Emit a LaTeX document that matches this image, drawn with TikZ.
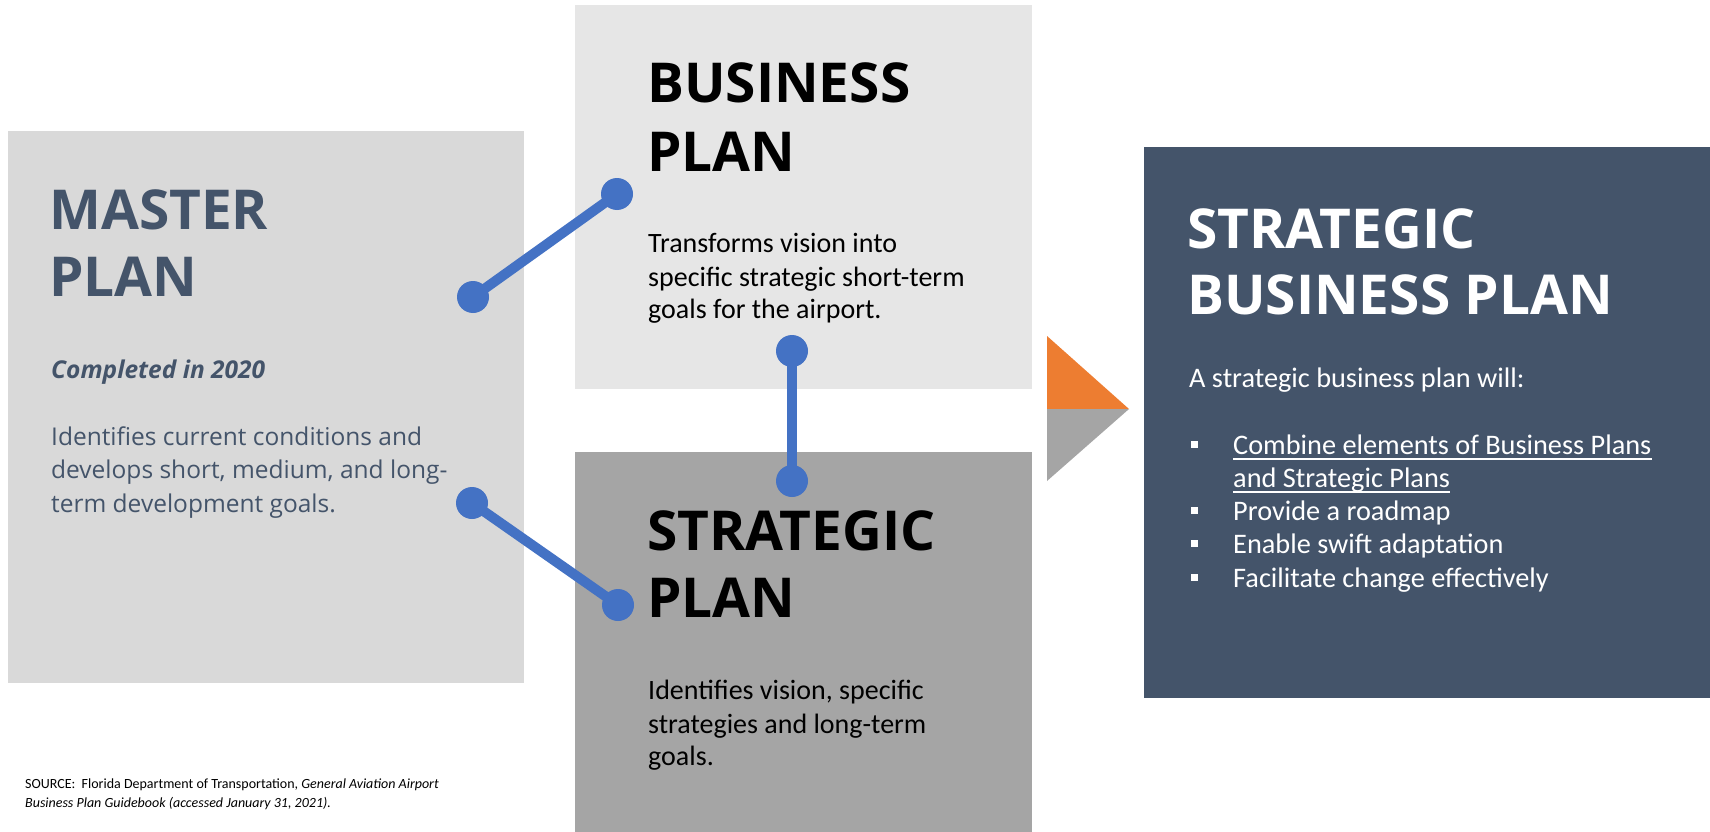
\documentclass[tikz,border=0pt]{standalone}
\usepackage{fontspec}
\setmainfont{Open Sans}
\newfontfamily\headfont{Open Sans}
\newfontfamily\calfont{Carlito}
\usetikzlibrary{calc}
\definecolor{navy}{HTML}{44546A}
\definecolor{mastergray}{HTML}{D9D9D9}
\definecolor{busgray}{HTML}{E6E6E6}
\definecolor{strgray}{HTML}{A5A5A5}
\definecolor{accorange}{HTML}{ED7D31}
\definecolor{linkblue}{HTML}{4472C4}
\tikzset{
  panel/.style={inner sep=0pt, outer sep=0pt, anchor=north west},
  heading/.style={anchor=base west, inner sep=0pt, font=\headfont\bfseries\fontsize{55}{55}\selectfont},
  mbody/.style={anchor=base west, inner sep=0pt, text=navy, font=\headfont\fontsize{24.5}{28}\selectfont},
  cbody/.style={anchor=base west, inner sep=0pt, font=\calfont\fontsize{28}{30}\selectfont},
  sbody/.style={anchor=base west, inner sep=0pt, text=white, font=\calfont\fontsize{28.3}{30}\selectfont},
  srcbody/.style={anchor=base west, inner sep=0pt, font=\calfont\fontsize{14}{15}\selectfont},
  dot/.style={circle, fill=linkblue, minimum size=32pt, inner sep=0pt},
  link/.style={draw=linkblue, line width=10pt},
  bulletsq/.style={fill=white, minimum width=7pt, minimum height=7pt, inner sep=0pt},
  uline/.style={draw=white, line width=1.4pt}
}
\begin{document}
\begin{tikzpicture}[x=1pt,y=-1pt]
\useasboundingbox (0,0) rectangle (1710,832);
\fill[white] (0,0) rectangle (1710,832);
% panels
\node[panel, fill=mastergray, minimum width=516pt, minimum height=552pt] (master) at (8,131) {};
\node[panel, fill=busgray, minimum width=457pt, minimum height=384pt] (business) at (575,5) {};
\node[panel, fill=strgray, minimum width=457pt, minimum height=380pt] (strategic) at (575,452) {};
\node[panel, fill=navy, minimum width=566pt, minimum height=551pt] (sbp) at (1144,147) {};
% triangles
\fill[accorange] (1047,336) coordinate (t1) -- (1129,409) coordinate (tip) -- (1047,409) coordinate (tm) -- cycle;
\fill[strgray] (tm) -- (tip) -- (1047,481) coordinate (t2) -- cycle;
% master text
\node[heading, text=navy] (mh1) at (49,229) {MASTER};
\node[heading, text=navy] (mh2) at (49,296) {PLAN};
\node[mbody, font=\headfont\bfseries\itshape\fontsize{24.5}{28}\selectfont] (mc) at (51,378) {Completed in 2020};
\node[mbody] (mb1) at (51,445) {Identifies current conditions and};
\node[mbody] (mb2) at (51,478) {develops short, medium, and long-};
\node[mbody] (mb3) at (51,512) {term development goals.};
% business text
\node[heading, text=black] (bh1) at (647,103) {BUSINESS};
\node[heading, text=black] (bh2) at (647,171) {PLAN};
\node[cbody] (bb1) at (648,252) {Transforms vision into};
\node[cbody] (bb2) at (648,286) {specific strategic short-term};
\node[cbody] (bb3) at (648,318) {goals for the airport.};
% strategic text
\node[heading, text=black] (sh1) at (647,550) {STRATEGIC};
\node[heading, text=black] (sh2) at (647,617) {PLAN};
\node[cbody] (sb1) at (648,699) {Identifies vision, specific};
\node[cbody] (sb2) at (648,733) {strategies and long-term};
\node[cbody] (sb3) at (648,765) {goals.};
% strategic business plan text
\node[heading, text=white] (ph1) at (1187,248) {STRATEGIC};
\node[heading, text=white] (ph2) at (1187,314) {BUSINESS PLAN};
\node[sbody] (pintro) at (1189,387) {A strategic business plan will:};
\node[sbody] (pl1) at (1233,454) {Combine elements of Business Plans};
\node[sbody] (pl2) at (1233,487) {and Strategic Plans};
\node[sbody] (pl3) at (1233,520) {Provide a roadmap};
\node[sbody] (pl4) at (1233,553) {Enable swift adaptation};
\node[sbody] (pl5) at (1233,587) {Facilitate change effectively};
\node[bulletsq] (q1) at (1194,444) {};
\node[bulletsq] (q3) at (1194,510) {};
\node[bulletsq] (q4) at (1194,543) {};
\node[bulletsq] (q5) at (1194,577) {};
\draw[uline] ($(pl1.base west)+(0,5)$) -- ($(pl1.base east)+(0,5)$);
\draw[uline] ($(pl2.base west)+(0,5)$) -- ($(pl2.base east)+(0,5)$);
% source
\node[srcbody] (src1) at (25,788) {SOURCE:\ \ Florida Department of Transportation, \textit{General Aviation Airport}};
\node[srcbody] (src2) at (25,807) {\textit{Business Plan Guidebook (accessed January 31, 2021).}};
% connectors
\node[dot] (d1) at (473,297) {};
\node[dot] (d2) at (617,194) {};
\node[dot] (d3) at (472,503) {};
\node[dot] (d4) at (618,605) {};
\node[dot] (d5) at (792,351) {};
\node[dot] (d6) at (792,481) {};
\draw[link] (d1.center) -- (d2.center);
\draw[link] (d3.center) -- (d4.center);
\draw[link] (d5.center) -- (d6.center);
\end{tikzpicture}
\end{document}
